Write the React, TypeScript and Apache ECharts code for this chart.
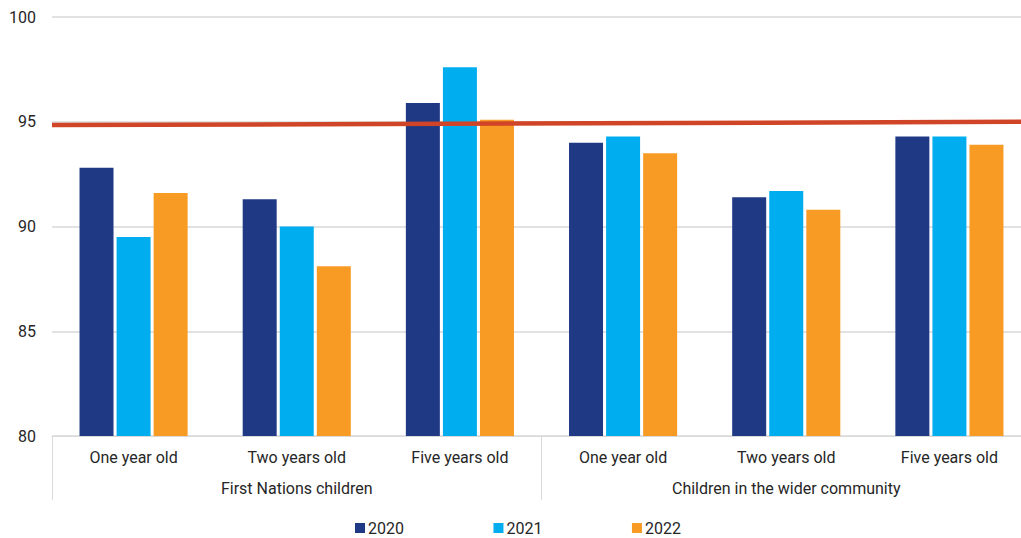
import React, { useEffect, useRef } from "react";
import * as echarts from "echarts";

// Age groups shown under each population group
const ageGroups = [
  "One year old",
  "Two years old",
  "Five years old",
  "One year old",
  "Two years old",
  "Five years old",
];
const populationGroups = ["First Nations children", "Children in the wider community"];

// Fully immunised rates (%) by year
const years = ["2020", "2021", "2022"];
const values2020 = [92.8, 91.3, 95.9, 94.0, 91.4, 94.3];
const values2021 = [89.5, 90.0, 97.6, 94.3, 91.7, 94.3];
const values2022 = [91.6, 88.1, 95.1, 93.5, 90.8, 93.9];

// Aspirational target line, start and end of the plot
const targetLine = [
  [0, 94.84],
  [1, 95.0],
];

const yTicks = { min: 80, max: 100, interval: 5 };

const barColors = ["#1f3985", "#00aeef", "#f89b24"];
const textColor = "#262626";
const gridColor = "#d9d9d9";

export default function App() {
  const ref = useRef<HTMLDivElement>(null);

  useEffect(() => {
    if (!ref.current) return;
    const chart = echarts.init(ref.current, undefined, { renderer: "svg" });
    const seriesValues = [values2020, values2021, values2022];

    chart.setOption({
      animation: false,
      textStyle: { fontFamily: "Roboto" },
      grid: { left: 52, top: 17, width: 979, height: 419 },
      legend: {
        data: years,
        left: 355,
        top: 520,
        padding: 0,
        icon: "rect",
        itemWidth: 10,
        itemHeight: 10,
        itemGap: 89.5,
        textStyle: { fontSize: 16, color: textColor, padding: [0, 0, 0, -2] },
      },
      xAxis: [
        {
          type: "category",
          data: ageGroups,
          position: "bottom",
          axisLine: { show: true, lineStyle: { color: gridColor, width: 1 } },
          axisTick: { show: false },
          axisLabel: { fontSize: 16, color: textColor, margin: 13 },
        },
        {
          type: "category",
          data: populationGroups,
          position: "bottom",
          axisLine: { show: false },
          axisTick: { show: true, length: 64, lineStyle: { color: gridColor, width: 1 } },
          axisLabel: { fontSize: 16, color: textColor, margin: 44 },
        },
        {
          type: "value",
          min: 0,
          max: 1,
          show: false,
        },
      ],
      yAxis: {
        type: "value",
        min: yTicks.min,
        max: yTicks.max,
        interval: yTicks.interval,
        axisLine: { show: false },
        axisTick: { show: false },
        axisLabel: { fontSize: 16, color: textColor, margin: 16 },
        splitLine: { lineStyle: { color: gridColor, width: 1.5 } },
      },
      series: [
        ...years.map((year, i) => ({
          name: year,
          type: "bar",
          xAxisIndex: 0,
          data: seriesValues[i],
          barWidth: 34,
          barGap: "9%",
          itemStyle: { color: barColors[i] },
        })),
        {
          name: "Target",
          type: "line",
          xAxisIndex: 2,
          data: targetLine,
          showSymbol: false,
          silent: true,
          lineStyle: { color: "#d04527", width: 4.5 },
          z: 5,
        },
      ],
    });

    return () => chart.dispose();
  }, []);

  // The plot runs a little past the right edge of the visible frame
  return (
    <div
      style={{
        position: "absolute",
        left: 0,
        top: 0,
        width: 1021,
        height: 538,
        overflow: "hidden",
        background: "#fff",
      }}
    >
      <div ref={ref} style={{ width: 1034, height: 538 }} />
    </div>
  );
}
